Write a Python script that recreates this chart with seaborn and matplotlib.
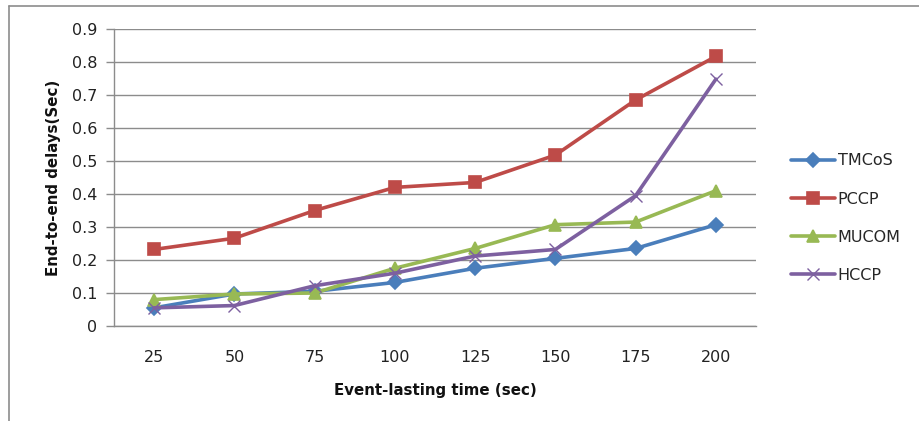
import matplotlib
matplotlib.use("Agg")
import matplotlib.pyplot as plt
from matplotlib.lines import Line2D
import seaborn as sns
import pandas as pd

# Event-lasting time categories (sec)
event_time = ["25", "50", "75", "100", "125", "150", "175", "200"]

# End-to-end delays (sec) per scheme
tmcos = [0.055, 0.097, 0.105, 0.132, 0.175, 0.205, 0.235, 0.307]
pccp = [0.232, 0.266, 0.350, 0.420, 0.435, 0.518, 0.685, 0.817]
mucom = [0.080, 0.097, 0.100, 0.175, 0.235, 0.307, 0.315, 0.410]
hccp = [0.055, 0.062, 0.122, 0.160, 0.212, 0.232, 0.395, 0.748]

series_names = ["TMCoS", "PCCP", "MUCOM", "HCCP"]
series_values = [tmcos, pccp, mucom, hccp]

colors = {"TMCoS": "#4A7EBB", "PCCP": "#BE4B48", "MUCOM": "#98B954", "HCCP": "#7D60A0"}
markers = {"TMCoS": "D", "PCCP": "s", "MUCOM": "^", "HCCP": "x"}
msizes = {"TMCoS": 7, "PCCP": 9, "MUCOM": 9, "HCCP": 9}

rows = []
for name, vals in zip(series_names, series_values):
    for t, v in zip(event_time, vals):
        rows.append({"time": t, "delay": v, "scheme": name})
df = pd.DataFrame(rows)

sns.set_theme(style="white")
plt.rcParams["font.family"] = ["DejaVu Sans"]

fig = plt.figure(figsize=(9.19, 4.21), dpi=100)
ax = fig.add_axes([114 / 919, 1 - 326 / 421, (756 - 114) / 919, (326 - 29) / 421])

for name in series_names:
    sub = df[df["scheme"] == name]
    sns.lineplot(data=sub, x="time", y="delay", ax=ax, color=colors[name],
                 marker=markers[name], markersize=msizes[name],
                 markeredgecolor=colors[name],
                 markeredgewidth=1.2 if markers[name] != "x" else 1.0,
                 linewidth=2.6, label=name, sort=False, zorder=3)

ax.set_xlim(-0.5, len(event_time) - 0.5)
ax.set_ylim(0, 0.9)
ax.set_yticks([i / 10 for i in range(10)])
ax.set_yticklabels(["0"] + [f"{i / 10:.1f}" for i in range(1, 10)])
ax.yaxis.grid(True, color="#8c8c8c", linewidth=1.0)
ax.xaxis.grid(False)
for side in ["top", "right"]:
    ax.spines[side].set_visible(False)
for side in ["left", "bottom"]:
    ax.spines[side].set_color("#8c8c8c")
    ax.spines[side].set_linewidth(1.0)
ax.tick_params(axis="y", which="major", length=6, color="#8c8c8c", width=1.0,
               left=True, labelsize=11.5, labelcolor="#222222", pad=6)
ax.tick_params(axis="x", length=0, labelsize=11.5, labelcolor="#222222", pad=17)

ax.set_xlabel("Event-lasting time (sec)", fontsize=10.8, fontweight="bold",
              color="#111111", labelpad=13)
ax.set_ylabel("End-to-end delays(Sec)", fontsize=10.8, fontweight="bold",
              color="#111111", labelpad=8)

ax.legend(loc="upper left", bbox_to_anchor=(785 / 919, 1 - 147 / 421),
          bbox_transform=fig.transFigure, frameon=False, fontsize=11.5,
          handlelength=2.7, handletextpad=0.2, labelspacing=1.45,
          borderaxespad=0)

# Outer chart-area border
fig.add_artist(Line2D([9 / 919, 1.0], [1 - 6 / 421, 1 - 6 / 421],
                      transform=fig.transFigure, color="#8c8c8c", linewidth=1.2))
fig.add_artist(Line2D([9 / 919, 9 / 919], [0.0, 1 - 6 / 421],
                      transform=fig.transFigure, color="#8c8c8c", linewidth=1.2))

fig.savefig("out.png", dpi=100)
